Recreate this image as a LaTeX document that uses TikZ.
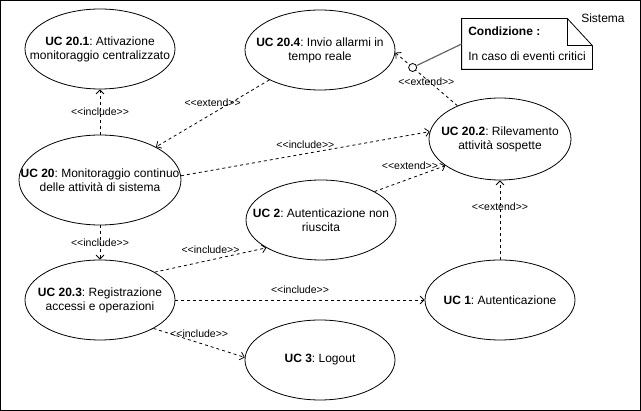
\documentclass[tikz,border=0pt]{standalone}
\usepackage{fontspec}
\setmainfont{Liberation Sans}
\usetikzlibrary{shapes.geometric}
\usetikzlibrary{arrows.meta}

\newcommand{\stereo}[1]{<{}<#1>{}>}
\frenchspacing

\begin{document}
\begin{tikzpicture}[x=1pt,y=-1pt,line width=0.8pt,
  uc/.style={ellipse,draw,minimum width=150pt,minimum height=80pt,inner sep=0pt},
  uctext/.style={align=center,font=\fontsize{12}{14}\selectfont,inner sep=0pt},
  dep/.style={dash pattern=on 3pt off 3pt,-{Straight Barb[length=4pt,width=8pt]}},
  lbl/.style={font=\fontsize{10.5}{12}\selectfont,inner sep=0pt}]
\useasboundingbox (0,0) rectangle (641,411);
\draw (0.5,0.5) rectangle (640.5,410.5);
\node[font=\fontsize{12}{14}\selectfont,anchor=east,inner sep=0pt] (sys) at (625,18) {Sistema};

% casi d'uso
\node[uc,label={[uctext]center:{\textbf{UC 20.1}: Attivazione\\monitoraggio centralizzato}}] (u201) at (100,49) {};
\node[uc,label={[uctext]center:{\textbf{UC 20.4}: Invio allarmi in\\tempo reale}}] (u204) at (320,50) {};
\node[uc,minimum width=162pt,minimum height=90pt,label={[uctext]center:{\textbf{UC 20}: Monitoraggio continuo\\delle attività di sistema}}] (u20) at (100,180) {};
\node[uc,minimum width=142pt,minimum height=82pt,label={[uctext]center:{\textbf{UC 20.2}: Rilevamento\\attività sospette}}] (u202) at (500,139) {};
\node[uc,label={[uctext]center:{\textbf{UC 2}: Autenticazione non\\riuscita}}] (u2) at (321,220) {};
\node[uc,label={[uctext]center:{\textbf{UC 20.3}: Registrazione\\accessi e operazioni}}] (u203) at (100,300) {};
\node[uc,label={[uctext]center:{\textbf{UC 1}: Autenticazione}}] (u1) at (500,300) {};
\node[uc,label={[uctext]center:{\textbf{UC 3}: Logout}}] (u3) at (320,360) {};

% relazioni
\draw[dep] (u20) -- (u201) node[lbl,midway] {\stereo{include}};
\draw[dep] (u20) -- (u203) node[lbl,midway] {\stereo{include}};
\draw[dep] (u204) -- (u20) node[lbl,midway,yshift=11pt] {\stereo{extend}};
\draw[dep] (u20.3) -- (u202.174) node[lbl,midway,yshift=9pt] {\stereo{include}};
\draw[dep] (u2.28) -- (u202.206) node[lbl,midway,yshift=13pt] {\stereo{extend}};
\draw[dep] (u203.27) -- (u2.207) node[lbl,midway,yshift=10pt] {\stereo{include}};
\draw[dep] (u203) -- (u1) node[lbl,midway,yshift=10pt] {\stereo{include}};
\draw[dep] (u203.-28) -- (u3.178) node[lbl,midway,yshift=9pt] {\stereo{include}};
\draw[dep] (u1) -- (u202) node[lbl,midway,yshift=13pt] {\stereo{extend}};
\draw[dep] (u202.142) -- (u204.-2) coordinate[pos=.72] (cp) node[lbl,midway,yshift=-3pt] {\stereo{extend}};

% condizione
\node[circle,draw,fill=white,minimum size=8pt,inner sep=0pt] (cnd) at (cp) {};
\node[minimum width=130pt,minimum height=50pt,align=left,font=\fontsize{12}{14}\selectfont] (nt) at (527,44) {\textbf{Condizione :}\\[11pt]In caso di eventi critici};
\draw (nt.south west) -- (nt.north west) -- ([xshift=-25pt]nt.north east) -- ([yshift=-27pt]nt.north east) -- (nt.south east) -- cycle;
\draw ([xshift=-25pt]nt.north east) |- ([yshift=-27pt]nt.north east);
\draw[black!60,line width=1.2pt] (cnd) -- (nt.west);

\end{tikzpicture}
\end{document}
